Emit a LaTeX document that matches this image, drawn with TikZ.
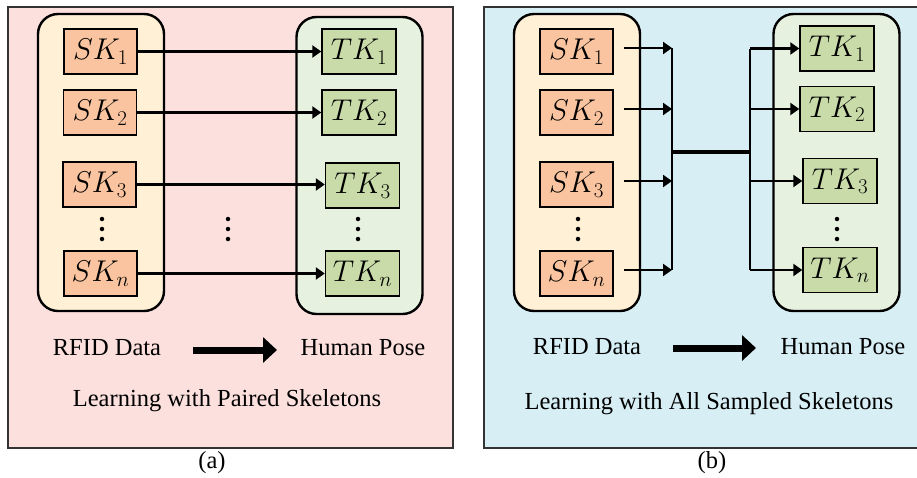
\documentclass[tikz,border=0pt]{standalone}
\usepackage{fix-cm}
\usepackage[no-math]{fontspec}
\setmainfont{Liberation Serif}
\usetikzlibrary{arrows.meta}
\definecolor{pinkbg}{HTML}{FCE0DE}
\definecolor{bluebg}{HTML}{D6EEF4}
\definecolor{yelbox}{HTML}{FFF0D6}
\definecolor{grnbox}{HTML}{E7F1E0}
\definecolor{skfill}{HTML}{F9C49F}
\definecolor{tkfill}{HTML}{C9DBA8}
\begin{document}
\begin{tikzpicture}[x=1pt,y=-1pt,
  panel/.style={draw=black!80, line width=1.2pt},
  group/.style={draw, line width=2.4pt, rounded corners=20pt, minimum width=126pt, minimum height=297pt, inner sep=0pt},
  skbox/.style={draw, line width=1.4pt, fill=skfill, minimum width=73pt, minimum height=45pt, inner sep=0pt, font=\fontsize{30}{30}\selectfont},
  tkbox/.style={skbox, fill=tkfill, minimum width=74pt},
  conn/.style={line width=2.3pt, -{Triangle[length=9pt,width=12pt]}},
  bus/.style={line width=2.3pt},
  lbl/.style={font=\fontsize{24.5}{24.5}\selectfont, inner sep=0pt},
  bigarrow/.style={line width=7pt, -{Triangle[length=14pt,width=25pt]}},
  ddot/.style={fill, circle, inner sep=0pt, minimum size=4.5pt}
]
\path[use as bounding box, fill=white] (0,0) rectangle (917,477);
% panels
\draw[panel, fill=pinkbg] (8,7) rectangle (453,448);
\draw[panel, fill=bluebg] (484,7) rectangle (921,448);
% ---------- panel (a)
\node[group, fill=yelbox] (srca) at (101,162.5) {};
\node[group, fill=grnbox] (tgta) at (359.5,165.5) {};
\node[skbox] (sk1a) at (100.5,51.5) {$SK_1$};
\node[skbox] (sk2a) at (100,112.5) {$SK_2$};
\node[skbox] (sk3a) at (99.5,184.5) {$SK_3$};
\node[skbox] (skna) at (100.5,273.5) {$SK_n$};
\node[tkbox] (tk1a) at (359,51.5) {$TK_1$};
\node[tkbox] (tk2a) at (359,112.5) {$TK_2$};
\node[tkbox] (tk3a) at (362.5,185.5) {$TK_3$};
\node[tkbox] (tkna) at (362.5,273.5) {$TK_n$};
\draw[conn] (sk1a.east) -- (sk1a.east -| tk1a.west);
\draw[conn] (sk2a.east) -- (sk2a.east -| tk2a.west);
\draw[conn] (sk3a.east) -- (sk3a.east -| tk3a.west);
\draw[conn] (skna.east) -- (skna.east -| tkna.west);
\foreach \x/\n in {102/l,228/m,358/r}{
  \node[ddot] (da\n1) at (\x,219) {};
  \node[ddot] (da\n2) at (\x,229) {};
  \node[ddot] (da\n3) at (\x,239) {};
}
\node[lbl] (rfida) at (107,348) {RFID Data};
\node[lbl] (posea) at (363,348) {Human Pose};
\coordinate (ba0) at (193,350);
\coordinate (ba1) at (277,350);
\draw[bigarrow] (ba0) -- (ba1);
\node[lbl] (titlea) at (227,401) {Learning with Paired Skeletons};
\node[lbl] (capa) at (212,463) {(a)};
% ---------- panel (b)
\node[group, fill=yelbox] (srcb) at (577,162.5) {};
\node[group, fill=grnbox] (tgtb) at (836.5,162.5) {};
\node[skbox] (sk1b) at (576.5,51.5) {$SK_1$};
\node[skbox] (sk2b) at (576.5,112.5) {$SK_2$};
\node[skbox] (sk3b) at (576.5,184.5) {$SK_3$};
\node[skbox] (sknb) at (576.5,273.5) {$SK_n$};
\node[tkbox] (tk1b) at (837,48.5) {$TK_1$};
\node[tkbox] (tk2b) at (837,109) {$TK_2$};
\node[tkbox] (tk3b) at (840,181) {$TK_3$};
\node[tkbox] (tknb) at (840,270) {$TK_n$};
\coordinate (busl) at (672,152);
\coordinate (busr) at (750,152);
\foreach \i in {1,2,3,n}{
  \coordinate (s\i) at ([xshift=10pt,yshift=3.5pt]sk\i b.east);
  \draw[conn] (s\i) -- (s\i -| busl);
  \draw[conn] (busr |- tk\i b.west) -- (tk\i b.west);
}
\draw[bus] (s1 -| busl) -- (sn -| busl);
\draw[bus] (busr |- tk1b.west) -- (busr |- tknb.west);
\draw[line width=4.5pt] (busl) -- (busr);
\foreach \x/\n in {578/l,837/r}{
  \node[ddot] (db\n1) at (\x,219) {};
  \node[ddot] (db\n2) at (\x,229) {};
  \node[ddot] (db\n3) at (\x,239) {};
}
\node[lbl] (rfidb) at (587,347) {RFID Data};
\node[lbl] (poseb) at (843,347) {Human Pose};
\coordinate (bb0) at (673,348);
\coordinate (bb1) at (756,348);
\draw[bigarrow] (bb0) -- (bb1);
\node[lbl] (titleb) at (709,404) {Learning with All Sampled Skeletons};
\node[lbl] (capb) at (712,463) {(b)};
\end{tikzpicture}
\end{document}
